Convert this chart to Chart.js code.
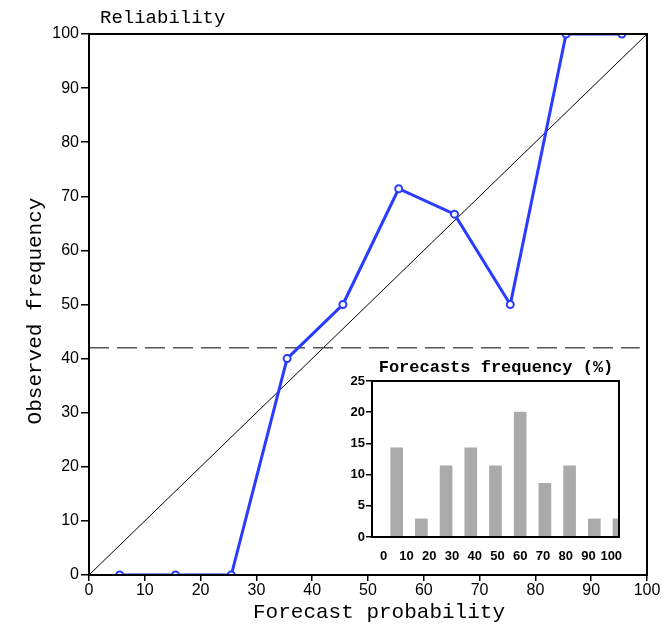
<!DOCTYPE html>
<html>
<head>
<meta charset="utf-8">
<script src="https://cdn.jsdelivr.net/npm/chart.js@4.4.1/dist/chart.umd.min.js"></script>
<style>
  html, body { margin: 0; padding: 0; background: #ffffff; }
  #wrap { position: relative; width: 663px; height: 625px; }
  #main { position: absolute; left: 0; top: 0; }
  #inset { position: absolute; left: 330px; top: 355px; }
</style>
</head>
<body>
<div id="wrap">
  <canvas id="main" width="663" height="625"></canvas>
  <canvas id="inset" width="300" height="205"></canvas>
</div>
<script>
// ---- data ----
const axisTicks = [0, 10, 20, 30, 40, 50, 60, 70, 80, 90, 100];
const probBins = [5.5, 15.5, 25.5, 35.5, 45.5, 55.5, 65.5, 75.5, 85.5, 95.5];
const observedFreq = [0, 0, 0, 40, 50, 71.4, 66.7, 50, 100, 100];
const climatology = 42;
const climEnd = 98.7;
const freqBins = [10, 20, 30, 40, 50, 60, 70, 80, 90, 100];
const freqPct = [14.3, 2.9, 11.4, 14.3, 11.4, 20, 8.6, 11.4, 2.9, 2.9];
const insetXLabels = [0, 10, 20, 30, 40, 50, 60, 70, 80, 90, 100];
const insetYTicks = [0, 5, 10, 15, 20, 25];

const BLUE = 'rgb(40,60,255)';
const TICKFONT = "'Liberation Sans', Arial, sans-serif";
const MONO = "'Liberation Mono', 'Courier New', monospace";

const boxPlugin = {
  id: 'boxAndTexts',
  afterDraw(chart, args, opts) {
    const ctx = chart.ctx, a = chart.chartArea;
    ctx.save();
    ctx.strokeStyle = '#000';
    ctx.lineWidth = opts.lw || 2;
    ctx.strokeRect(a.left, a.top, a.right - a.left, a.bottom - a.top);
    (opts.texts || []).forEach(t => {
      ctx.save();
      ctx.font = t.font;
      ctx.fillStyle = '#000';
      ctx.textAlign = t.align || 'center';
      ctx.textBaseline = 'middle';
      ctx.translate(t.x, t.y);
      if (t.rot) ctx.rotate(t.rot);
      ctx.fillText(t.text, 0, 0);
      ctx.restore();
    });
    ctx.restore();
  }
};

new Chart(document.getElementById('main'), {
  type: 'scatter',
  data: {
    datasets: [
      {
        data: probBins.map((x, i) => ({ x, y: observedFreq[i] })),
        showLine: true,
        borderColor: BLUE,
        borderWidth: 3,
        pointRadius: 3.5,
        pointBorderWidth: 2,
        pointBorderColor: BLUE,
        pointBackgroundColor: '#ffffff',
        order: 0,
        clip: 1
      },
      {
        data: [{ x: 0, y: 0 }, { x: 100, y: 100 }],
        showLine: true,
        borderColor: '#000',
        borderWidth: 1,
        pointRadius: 0,
        order: 2
      },
      {
        data: [{ x: 0, y: climatology }, { x: climEnd, y: climatology }],
        showLine: true,
        borderColor: '#555',
        borderWidth: 1.5,
        borderDash: [20, 8],
        pointRadius: 0,
        order: 1
      }
    ]
  },
  options: {
    responsive: false,
    animation: false,
    layout: { padding: { top: 34, right: 16, left: 0, bottom: 0 } },
    plugins: {
      legend: { display: false },
      tooltip: { enabled: false },
      boxAndTexts: {
        lw: 2,
        texts: [
          { text: 'Reliability', x: 100, y: 18, align: 'left', font: "19px " + MONO },
          { text: 'Forecast probability', x: 379, y: 612, font: "21px " + MONO },
          { text: 'Observed frequency', x: 35, y: 311, rot: -Math.PI / 2, font: "21px " + MONO }
        ]
      }
    },
    scales: {
      x: {
        type: 'linear', min: 0, max: 100,
        afterBuildTicks: s => { s.ticks = axisTicks.map(v => ({ value: v })); },
        afterFit: s => { s.height = 50; },
        grid: { drawOnChartArea: false, drawTicks: true, tickLength: 6, color: '#000', lineWidth: 1.5 },
        border: { display: false },
        ticks: { color: '#000', padding: 0, maxRotation: 0, font: { family: TICKFONT, size: 16 } }
      },
      y: {
        type: 'linear', min: 0, max: 100,
        afterBuildTicks: s => { s.ticks = axisTicks.map(v => ({ value: v })); },
        afterFit: s => { s.width = 89; },
        grid: { drawOnChartArea: false, drawTicks: true, tickLength: 8, color: '#000', lineWidth: 1.5 },
        border: { display: false },
        ticks: { color: '#000', padding: 2, font: { family: TICKFONT, size: 16 } }
      }
    }
  },
  plugins: [boxPlugin]
});

new Chart(document.getElementById('inset'), {
  type: 'bar',
  data: {
    datasets: [{
      data: freqBins.map((x, i) => ({ x, y: freqPct[i] })),
      backgroundColor: 'rgb(170,170,170)',
      borderWidth: 0,
      barThickness: 12,
      clip: 0,
      xAxisID: 'x',
      yAxisID: 'y'
    }]
  },
  options: {
    responsive: false,
    animation: false,
    layout: { padding: { top: 26, right: 11, left: 0, bottom: 0 } },
    plugins: {
      legend: { display: false },
      tooltip: { enabled: false },
      boxAndTexts: {
        lw: 2,
        texts: [
          { text: 'Forecasts frequency (%)', x: 166, y: 13, font: "bold 17px " + MONO }
        ]
      }
    },
    scales: {
      x: {
        type: 'linear', min: 0, max: 100, display: false, offset: false
      },
      x2: {
        type: 'linear', position: 'bottom', min: -5.1, max: 103.4, offset: false,
        afterBuildTicks: s => { s.ticks = insetXLabels.map(v => ({ value: v })); },
        afterFit: s => { s.height = 23; },
        grid: { display: false, offset: false },
        border: { display: false },
        ticks: { color: '#000', padding: 4, maxRotation: 0, autoSkip: false, font: { family: TICKFONT, size: 13, weight: 'bold' } }
      },
      y: {
        type: 'linear', min: 0, max: 25,
        afterBuildTicks: s => { s.ticks = insetYTicks.map(v => ({ value: v })); },
        afterFit: s => { s.width = 42; },
        grid: { drawOnChartArea: false, drawTicks: true, tickLength: 6, color: '#000', lineWidth: 1.5 },
        border: { display: false },
        ticks: { color: '#000', padding: 1, font: { family: TICKFONT, size: 13, weight: 'bold' } }
      }
    }
  },
  plugins: [boxPlugin]
});
</script>
</body>
</html>
